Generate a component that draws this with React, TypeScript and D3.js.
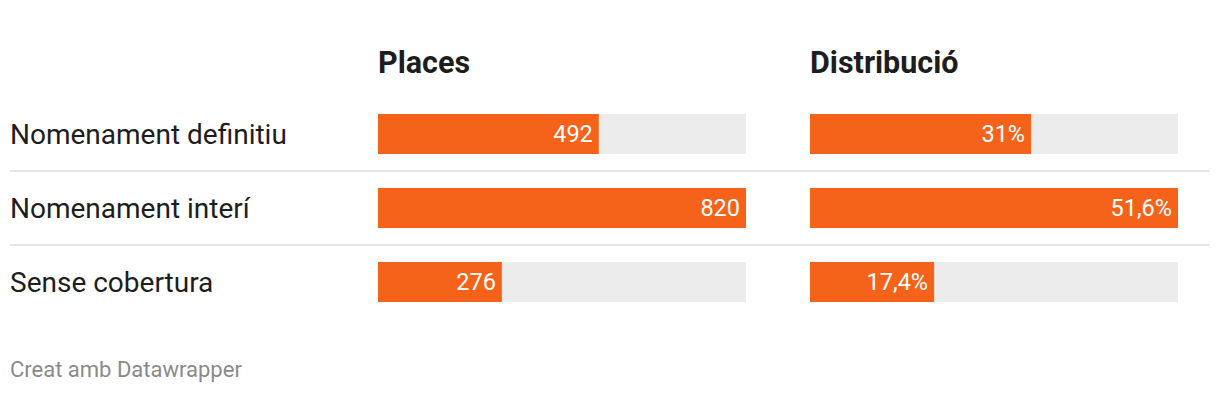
import React from "react";
import * as d3 from "d3";

const categories = ["Nomenament definitiu", "Nomenament interí", "Sense cobertura"];
const places = [492, 820, 276];
const placesLabels = ["492", "820", "276"];
const distribucio = [31, 51.6, 17.4];
const distribucioLabels = ["31%", "51,6%", "17,4%"];
const columnTitles = ["Places", "Distribució"];

const W = 1220;
const H = 394;
const ORANGE = "#f5631a";
const BG = "#ececec";

export default function App() {
  const step = 74;
  const barH = 40;
  const y = d3
    .scaleBand<string>()
    .domain(categories)
    .range([114 - (step - barH) / 2, 114 - (step - barH) / 2 + step * categories.length])
    .paddingInner((step - barH) / step)
    .paddingOuter((step - barH) / step / 2);

  const xPlaces = d3.scaleLinear().domain([0, d3.max(places)!]).range([378, 746]);
  const xDist = d3.scaleLinear().domain([0, d3.max(distribucio)!]).range([810, 1178]);

  const cols = [
    { x: xPlaces, vals: places, labels: placesLabels, title: columnTitles[0] },
    { x: xDist, vals: distribucio, labels: distribucioLabels, title: columnTitles[1] },
  ];

  return (
    <svg width={W} height={H} style={{ position: "absolute", left: 0, top: 0, fontFamily: "Roboto, sans-serif" }}>
      <rect x={0} y={0} width={W} height={H} fill="#fff" />
      {cols.map((c, ci) => (
        <text key={"t" + ci} x={c.x.range()[0]} y={73} fontSize={30.5} fontWeight={700} fill="#1d1d1d">
          {c.title}
        </text>
      ))}
      {categories.map((cat, i) => {
        const by = y(cat)!;
        const bh = y.bandwidth();
        return (
          <g key={cat}>
            {i > 0 && (
              <line x1={10} x2={1210} y1={by - 17} y2={by - 17} stroke="#e6e6e6" strokeWidth={2} />
            )}
            <text x={10} y={by + bh / 2} dy="0.35em" fontSize={28} fill="#1d1d1d">
              {cat}
            </text>
            {cols.map((c, ci) => {
              const x0 = c.x.range()[0];
              const x1 = c.x.range()[1];
              const xe = c.x(c.vals[i]);
              return (
                <g key={ci}>
                  <rect x={x0} y={by} width={x1 - x0} height={bh} fill={BG} />
                  <rect x={x0} y={by} width={xe - x0} height={bh} fill={ORANGE} />
                  <text x={xe - 6} y={by + bh / 2} dy="0.35em" fontSize={23.5} fill="#fff" textAnchor="end">
                    {c.labels[i]}
                  </text>
                </g>
              );
            })}
          </g>
        );
      })}
      <text x={10} y={377} fontSize={22} fill="#8a8a8a">
        Creat amb Datawrapper
      </text>
    </svg>
  );
}
